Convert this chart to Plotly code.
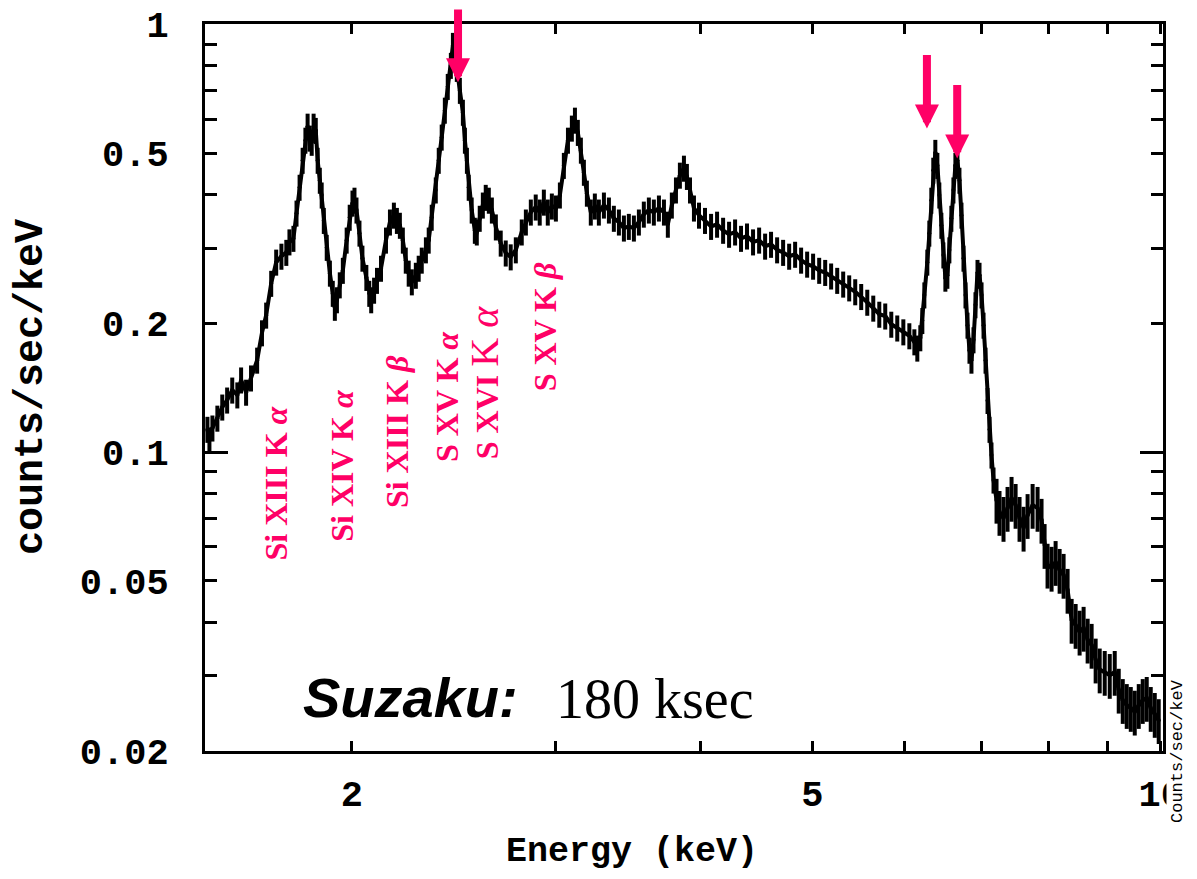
import numpy as np
import plotly.graph_objects as go

# Suzaku spectrum: energy (keV) and counts/sec/keV
energy = [
    1.500, 1.506, 1.515, 1.530, 1.545, 1.560, 1.576, 1.592, 1.604, 1.620,
    1.636, 1.656, 1.672, 1.686, 1.703, 1.720, 1.738, 1.755, 1.766, 1.780,
    1.791, 1.802, 1.813, 1.823, 1.831, 1.838, 1.846, 1.853, 1.861, 1.868,
    1.876, 1.883, 1.891, 1.902, 1.914, 1.925, 1.933, 1.941, 1.952, 1.964,
    1.979, 1.991, 2.002, 2.010, 2.018, 2.030, 2.042, 2.058, 2.070, 2.078,
    2.090, 2.102, 2.119, 2.140, 2.157, 2.174, 2.187, 2.200, 2.213, 2.226,
    2.239, 2.253, 2.271, 2.284, 2.298, 2.317, 2.330, 2.344, 2.363, 2.377,
    2.391, 2.406, 2.420, 2.435, 2.445, 2.455, 2.464, 2.479, 2.494, 2.504,
    2.514, 2.523, 2.538, 2.554, 2.564, 2.579, 2.595, 2.610, 2.626, 2.642,
    2.663, 2.689, 2.716, 2.743, 2.771, 2.804, 2.827, 2.855, 2.883, 2.906,
    2.930, 2.953, 2.977, 3.001, 3.025, 3.049, 3.074, 3.098, 3.117, 3.135,
    3.154, 3.173, 3.192, 3.217, 3.243, 3.269, 3.302, 3.335, 3.368, 3.402,
    3.436, 3.470, 3.505, 3.540, 3.575, 3.611, 3.647, 3.684, 3.721, 3.750,
    3.780, 3.811, 3.841, 3.872, 3.895, 3.919, 3.950, 3.990, 4.038, 4.087,
    4.136, 4.186, 4.236, 4.287, 4.338, 4.390, 4.443, 4.497, 4.551, 4.605,
    4.661, 4.717, 4.774, 4.831, 4.889, 4.948, 5.007, 5.068, 5.129, 5.190,
    5.253, 5.316, 5.380, 5.445, 5.510, 5.577, 5.644, 5.712, 5.780, 5.850,
    5.920, 5.992, 6.064, 6.125, 6.161, 6.198, 6.223, 6.248, 6.285, 6.310,
    6.335, 6.360, 6.386, 6.412, 6.437, 6.463, 6.489, 6.515, 6.541, 6.567,
    6.593, 6.620, 6.646, 6.673, 6.700, 6.727, 6.754, 6.781, 6.808, 6.835,
    6.862, 6.890, 6.917, 6.945, 6.973, 7.001, 7.029, 7.057, 7.085, 7.113,
    7.141, 7.170, 7.213, 7.256, 7.314, 7.373, 7.432, 7.492, 7.551, 7.612,
    7.673, 7.750, 7.827, 7.889, 7.937, 7.984, 8.048, 8.113, 8.178, 8.243,
    8.309, 8.376, 8.443, 8.510, 8.578, 8.647, 8.716, 8.786, 8.857, 8.946,
    9.036, 9.126, 9.199, 9.273, 9.347, 9.422, 9.497, 9.573, 9.649, 9.726,
    9.804, 9.883, 9.961,
]
counts = [
    0.113, 0.1067, 0.1138, 0.120, 0.1274, 0.1323, 0.1396, 0.136, 0.1474, 0.138,
    0.149, 0.164, 0.190, 0.209, 0.248, 0.278, 0.287, 0.293, 0.310, 0.316,
    0.362, 0.416, 0.481, 0.536, 0.578, 0.542, 0.530, 0.578, 0.565, 0.481,
    0.432, 0.399, 0.348, 0.301, 0.262, 0.235, 0.218, 0.227, 0.246, 0.266,
    0.313, 0.354, 0.382, 0.388, 0.368, 0.325, 0.284, 0.256, 0.235, 0.227,
    0.239, 0.252, 0.269, 0.313, 0.345, 0.358, 0.348, 0.339, 0.313, 0.281,
    0.262, 0.250, 0.259, 0.269, 0.281, 0.297, 0.313, 0.354, 0.410, 0.481,
    0.545, 0.630, 0.716, 0.802, 0.893, 0.846, 0.789, 0.701, 0.623, 0.536,
    0.481, 0.416, 0.368, 0.330, 0.327, 0.352, 0.378, 0.394, 0.388, 0.368,
    0.336, 0.308, 0.292, 0.286, 0.297, 0.327, 0.345, 0.364, 0.374, 0.364,
    0.384, 0.364, 0.376, 0.372, 0.399, 0.468, 0.536, 0.572, 0.597, 0.559,
    0.508, 0.451, 0.403, 0.364, 0.376, 0.364, 0.378, 0.368, 0.352, 0.345,
    0.334, 0.337, 0.334, 0.345, 0.360, 0.368, 0.364, 0.372, 0.364, 0.341,
    0.378, 0.410, 0.444, 0.461, 0.441, 0.410, 0.372, 0.358, 0.348, 0.337,
    0.341, 0.330, 0.323, 0.327, 0.316, 0.320, 0.310, 0.313, 0.303, 0.306,
    0.297, 0.293, 0.287, 0.290, 0.281, 0.275, 0.272, 0.266, 0.263, 0.258,
    0.252, 0.247, 0.242, 0.237, 0.231, 0.224, 0.217, 0.210, 0.208, 0.199,
    0.195, 0.191, 0.187, 0.181, 0.175, 0.185, 0.203, 0.233, 0.278, 0.325,
    0.388, 0.456, 0.502, 0.468, 0.399, 0.339, 0.289, 0.255, 0.259, 0.297,
    0.352, 0.410, 0.468, 0.481, 0.432, 0.358, 0.284, 0.233, 0.198, 0.173,
    0.164, 0.183, 0.221, 0.263, 0.259, 0.233, 0.198, 0.164, 0.132, 0.113,
    0.0984, 0.086, 0.0773, 0.0724, 0.0701, 0.0740, 0.0781, 0.0752, 0.0701, 0.0665,
    0.0712, 0.0752, 0.0740, 0.0694, 0.0606, 0.0545, 0.0536, 0.0553, 0.0530, 0.0516,
    0.0476, 0.0405, 0.0394, 0.0380, 0.0388, 0.0364, 0.0354, 0.0327, 0.0310, 0.0306,
    0.0301, 0.0306, 0.0278, 0.0263, 0.0256, 0.0252, 0.0247, 0.0256, 0.0263, 0.0266,
    0.0252, 0.0244, 0.0236,
]
assert len(energy) == len(counts)

# line labels (text, energy of label centre, counts of label centre)
line_labels = [
    "Si XIII K <i>α</i>", "Si XIV K <i>α</i>", "Si XIII K <i>β</i>",
    "S XV K <i>α</i>",
    "S XVI <span style='font-size:40px;font-weight:normal'>K <i>α</i></span>",
    "S XV K <i>β</i>",
]
label_energy = [1.718, 1.963, 2.187, 2.416, 2.601, 2.938]
label_counts = [0.0847, 0.0932, 0.1119, 0.1352, 0.1449, 0.196]

# arrows marking the lines (energy, counts at arrow tip)
arrow_energy = [2.47, 6.28, 6.67]
arrow_counts = [0.732, 0.571, 0.486]

PINK = "#ff0066"
MONO = "Courier New, Nimbus Mono PS, Liberation Mono, monospace"
SERIF = "Times New Roman, Liberation Serif, serif"

e = np.array(energy)
c = np.array(counts)
low = e < 7.2

fig = go.Figure()
fig.add_trace(go.Scatter(x=e, y=c, mode="lines",
                         line=dict(color="black", width=4), showlegend=False))
fig.add_trace(go.Scatter(x=e[low], y=c[low], mode="markers",
                         marker=dict(color="black", size=4),
                         error_y=dict(type="percent", value=7, thickness=4, width=0, color="black"),
                         showlegend=False))
fig.add_trace(go.Scatter(x=e[~low], y=c[~low], mode="markers",
                         marker=dict(color="black", size=4),
                         error_y=dict(type="percent", value=12, thickness=4, width=0, color="black"),
                         showlegend=False, yaxis="y2"))

ytick_vals = [0.02, 0.03, 0.04, 0.05, 0.06, 0.07, 0.08, 0.09,
              0.1, 0.2, 0.3, 0.4, 0.5, 0.6, 0.7, 0.8, 0.9, 1]
ytick_text = ["0.02", "", "", "0.05", "", "", "", "",
              "0.1", "0.2", "", "", "0.5", "", "", "", "", "1"]
xtick_vals = [2, 3, 4, 5, 6, 7, 8, 9, 10]
xtick_text = ["2", "", "", "5", "", "", "", "", "10"]

for txt, le, lc in zip(line_labels, label_energy, label_counts):
    fig.add_annotation(x=np.log10(le), y=np.log10(lc), xref="x", yref="y",
                       xanchor="center", yanchor="middle",
                       text="<b>" + txt + "</b>", showarrow=False, textangle=-90,
                       font=dict(family=SERIF, size=32, color=PINK))

for ae, ac in zip(arrow_energy, arrow_counts):
    fig.add_annotation(x=np.log10(ae), y=np.log10(ac), xref="x", yref="y",
                       text="", showarrow=True, ax=0, ay=-75,
                       arrowhead=2, arrowsize=0.6, arrowwidth=8, arrowcolor=PINK)

fig.add_annotation(x=0.215, y=0.074, xref="paper", yref="paper", showarrow=False,
                   xanchor="center", yanchor="middle",
                   text="<b><i>Suzaku:</i></b>",
                   font=dict(family="Arial, Liberation Sans, sans-serif", size=56, color="black"))
fig.add_annotation(x=0.47, y=0.071, xref="paper", yref="paper", showarrow=False,
                   xanchor="center", yanchor="middle",
                   text="180 ksec", font=dict(family=SERIF, size=56, color="black"))
fig.add_annotation(x=-0.181, y=0.5, xref="paper", yref="paper", showarrow=False,
                   xanchor="center", yanchor="middle",
                   text="<b>counts/sec/keV</b>", textangle=-90,
                   font=dict(family=MONO, size=40, color="black"))
fig.add_annotation(x=0.446, y=-0.139, xref="paper", yref="paper", showarrow=False,
                   xanchor="center", yanchor="middle",
                   text="<b>Energy (keV)</b>", font=dict(family=MONO, size=35, color="black"))
fig.add_annotation(x=1.0146, y=0.0, xref="paper", yref="paper", showarrow=False,
                   xanchor="center", yanchor="middle",
                   text="Counts/sec/keV", textangle=-90, bgcolor="white",
                   font=dict(family=MONO, size=17, color="black"))

fig.update_layout(
    width=1197, height=879,
    margin=dict(l=197, r=42, t=16, b=136),
    paper_bgcolor="white", plot_bgcolor="white",
    xaxis=dict(type="log", range=[0.174, 1.002], tickvals=xtick_vals, ticktext=xtick_text,
               ticks="inside", ticklen=10, tickwidth=2.5, tickcolor="black",
               showline=True, linewidth=3, linecolor="black", mirror="ticks",
               showgrid=False, zeroline=False, ticklabelstandoff=8,
               ticklabeloverflow="allow", automargin=False,
               tickfont=dict(family=MONO, size=37, color="black", weight="bold")),
    yaxis=dict(type="log", range=[np.log10(0.02), 0.001], tickvals=ytick_vals, ticktext=ytick_text,
               ticks="inside", ticklen=12, tickwidth=2.5, tickcolor="black",
               showline=True, linewidth=3, linecolor="black", mirror="ticks",
               showgrid=False, zeroline=False, ticklabelstandoff=26,
               ticklabeloverflow="allow", automargin=False,
               tickfont=dict(family=MONO, size=37, color="black", weight="bold")),
    yaxis2=dict(type="log", range=[np.log10(0.02), 0.001], overlaying="y", side="left",
                tickvals=[0.1], ticks="inside", ticklen=23, tickwidth=2.5, tickcolor="black",
                showticklabels=False, showline=True, linewidth=3, linecolor="black",
                mirror="ticks", showgrid=False, zeroline=False, automargin=False),
)

fig.write_html("out.html")
